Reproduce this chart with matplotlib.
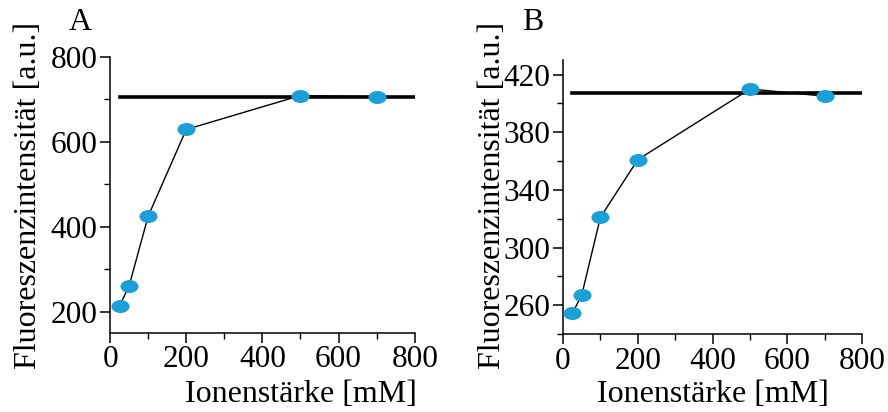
import numpy as np
import matplotlib.pyplot as plt
from matplotlib.path import Path
from matplotlib.ticker import MultipleLocator

plt.rcParams['font.family'] = ['Liberation Serif', 'DejaVu Serif']

# Ionenstärke [mM]
conc = [25, 50, 100, 200, 500, 700]
# Fluoreszenzintensität, Messreihe A und B
fluo_a = [214, 261, 425, 629, 709, 706]
fluo_b = [254.5, 267, 321, 361, 410, 405]
# Plateau-Linien
plateau_a = 706
plateau_b = 407
plateau_x = [25, 800]

blue = '#1a9fd6'

# flache Ellipse als Marker
circ = Path.unit_circle()
ellipse = Path(circ.vertices * np.array([1.0, 0.72]), circ.codes)

fig = plt.figure(figsize=(8.88, 4.12), dpi=100)
ax_a = fig.add_axes([0.124, 0.192, 0.343, 0.670])
ax_b = fig.add_axes([0.634, 0.189, 0.337, 0.665])


def style(ax):
    for s in ['top', 'right']:
        ax.spines[s].set_visible(False)
    for s in ['left', 'bottom']:
        ax.spines[s].set_linewidth(1.1)
    ax.tick_params(which='major', direction='out', length=7, width=1.1,
                   labelsize=22.5, pad=2)
    ax.tick_params(which='minor', direction='out', length=4, width=1.0)
    ax.set_xlim(0, 800)
    ax.xaxis.set_major_locator(MultipleLocator(200))
    ax.xaxis.set_minor_locator(MultipleLocator(100))


for ax, vals, plat in [(ax_a, fluo_a, plateau_a), (ax_b, fluo_b, plateau_b)]:
    style(ax)
    ax.plot(plateau_x, [plat, plat], color='black', lw=2.6, zorder=2)
    ax.plot(conc, vals, color='black', lw=1.0, zorder=3)
    ax.plot(conc, vals, ls='none', marker=ellipse, markersize=13,
            color=blue, markeredgewidth=0, zorder=4)

ax_a.set_ylim(150, 800)
ax_a.yaxis.set_major_locator(MultipleLocator(200))
ax_a.yaxis.set_minor_locator(MultipleLocator(100))

ax_b.set_ylim(240, 430)
ax_b.yaxis.set_major_locator(MultipleLocator(40))
ax_b.yaxis.set_minor_locator(MultipleLocator(20))
ax_b.set_yticks([260, 300, 340, 380, 420])

fs = 23
fig.text(301 / 888, 1 - 395 / 412, 'Ionenstärke [mM]', fontsize=fs,
         ha='center', va='center')
fig.text(713 / 888, 1 - 395 / 412, 'Ionenstärke [mM]', fontsize=fs,
         ha='center', va='center')
fig.text(29 / 888, 1 - 195 / 412, 'Fluoreszenzintensität [a.u.]', fontsize=fs,
         rotation=90, ha='center', va='center')
fig.text(492 / 888, 1 - 195 / 412, 'Fluoreszenzintensität [a.u.]', fontsize=fs,
         rotation=90, ha='center', va='center')

fig.text(80 / 888, 1 - 22 / 412, 'A', fontsize=fs, ha='center', va='center')
fig.text(533 / 888, 1 - 22 / 412, 'B', fontsize=fs, ha='center', va='center')

fig.savefig('out.png', dpi=100)
